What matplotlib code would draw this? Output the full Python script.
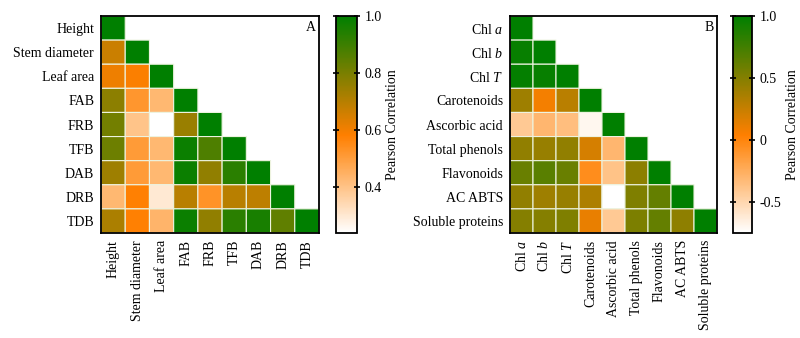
import numpy as np
import matplotlib
matplotlib.use('Agg')
import matplotlib.pyplot as plt
from matplotlib.colors import LinearSegmentedColormap

plt.rcParams['font.family'] = ['Liberation Serif', 'DejaVu Serif']
plt.rcParams['mathtext.fontset'] = 'custom'
plt.rcParams['mathtext.it'] = 'Liberation Serif:italic'
plt.rcParams['mathtext.rm'] = 'Liberation Serif'

# --- datos panel A (triangulo inferior, filas = columnas)
labels_a = ['Height', 'Stem diameter', 'Leaf area', 'FAB', 'FRB', 'TFB', 'DAB', 'DRB', 'TDB']
rows_a = [
    [1.0],
    [0.67, 1.0],
    [0.61, 0.59, 1.0],
    [0.77, 0.52, 0.43, 1.0],
    [0.81, 0.40, 0.24, 0.75, 1.0],
    [0.82, 0.51, 0.43, 0.98, 0.87, 1.0],
    [0.74, 0.51, 0.43, 0.98, 0.76, 0.93, 1.0],
    [0.43, 0.58, 0.30, 0.70, 0.53, 0.70, 0.69, 1.0],
    [0.72, 0.58, 0.44, 0.98, 0.76, 0.93, 0.96, 0.84, 1.0],
]

# --- datos panel B
labels_b = ['Chl $\\mathit{a}$', 'Chl $\\mathit{b}$', 'Chl $\\mathit{T}$', 'Carotenoids', 'Ascorbic acid',
            'Total phenols', 'Flavonoids', 'AC ABTS', 'Soluble proteins']
rows_b = [
    [1.0],
    [0.97, 1.0],
    [0.98, 0.97, 1.0],
    [0.40, 0.08, 0.30, 1.0],
    [-0.42, -0.30, -0.35, -0.70, 1.0],
    [0.45, 0.43, 0.45, 0.20, -0.30, 1.0],
    [0.60, 0.66, 0.60, -0.05, -0.38, 0.47, 1.0],
    [0.45, 0.40, 0.43, 0.35, -0.75, 0.52, 0.62, 1.0],
    [0.50, 0.50, 0.52, 0.12, -0.42, 0.53, 0.62, 0.46, 1.0],
]

cmap = LinearSegmentedColormap.from_list('og', [(0, '#ffffff'), (0.45, '#ff7f00'), (1, '#007f00')])


def tri(rows):
    n = len(rows)
    m = np.full((n, n), np.nan)
    for i, r in enumerate(rows):
        m[i, :len(r)] = r
    return np.ma.masked_invalid(m)


fig = plt.figure(figsize=(8, 3.38), dpi=100)
W, H = 800, 338

def ax_px(x0, y0, x1, y1):
    return fig.add_axes([x0 / W, 1 - y1 / H, (x1 - x0) / W, (y1 - y0) / H])

panels = [
    (labels_a, rows_a, 0.24, 1.0, [0.4, 0.6, 0.8, 1.0], ['0.4', '0.6', '0.8', '1.0'], 'A',
     (101, 16, 319, 233), (336, 16, 357, 233)),
    (labels_b, rows_b, -0.75, 1.0, [-0.5, 0, 0.5, 1.0], ['-0.5', '0', '0.5', '1.0'], 'B',
     (510, 16, 717, 233), (733, 16, 752, 233)),
]

for labels, rows, vmin, vmax, ticks, ticklabels, tag, pos, cpos in panels:
    ax = ax_px(*pos)
    m = tri(rows)
    n = len(labels)
    # pcolor descarta las celdas enmascaradas (no dibuja bordes ahi)
    mesh = ax.pcolor(np.arange(n + 1), np.arange(n + 1), m, cmap=cmap, vmin=vmin, vmax=vmax,
                     edgecolors='#edf3df', linewidth=0.8)
    ax.set_xlim(0, n)
    ax.set_ylim(n, 0)
    ax.set_xticks(np.arange(n) + 0.5)
    ax.set_yticks(np.arange(n) + 0.5)
    ax.set_xticklabels(labels, rotation=90, fontsize=10)
    ax.set_yticklabels(labels, fontsize=10)
    ax.tick_params(length=0, pad=5)
    for s in ax.spines.values():
        s.set_linewidth(1.3)
    ax.text(0.985, 0.975, tag, transform=ax.transAxes, ha='right', va='top', fontsize=10)

    cax = ax_px(*cpos)
    cb = fig.colorbar(mesh, cax=cax)
    cb.set_ticks(ticks)
    cb.set_ticklabels(ticklabels)
    cb.outline.set_linewidth(1.3)
    cax.tick_params(labelsize=10, direction='inout', length=4, width=1.2, left=True, right=True)
    cb.set_label('Pearson Correlation', fontsize=10, labelpad=3)

plt.savefig('out.png', dpi=100)
